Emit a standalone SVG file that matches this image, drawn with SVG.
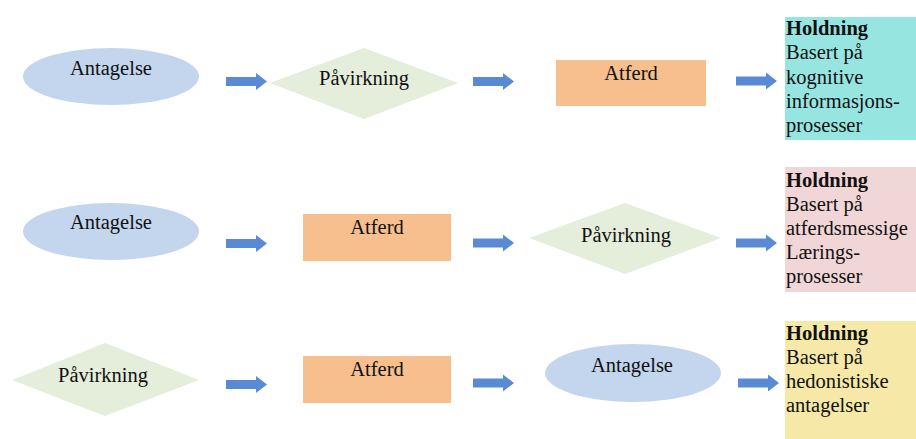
<svg xmlns="http://www.w3.org/2000/svg" xmlns:xlink="http://www.w3.org/1999/xlink" width="916" height="439" viewBox="0 0 916 439">
<style>
text{font-family:"Liberation Serif","Times New Roman",serif;font-size:20.5px;fill:#111}
.c{text-anchor:middle}
.b{font-weight:bold}
.ell{fill:#c3d6ed}
.dia{fill:#e5eddb}
.rec{fill:#f6bf8d}
.arr{fill:#5a8ad4}
</style>
<defs>
<path id="arrow" d="M0,-4.5 H30 V-8.5 L41,0 L30,8.5 V4.5 H0 Z"/>
</defs>
<rect width="916" height="439" fill="#ffffff"/>
<g id="connectors" class="arr">
<use xlink:href="#arrow" href="#arrow" x="226" y="81.5"/>
<use xlink:href="#arrow" href="#arrow" x="473" y="81.5"/>
<use xlink:href="#arrow" href="#arrow" x="736" y="81"/>
<use xlink:href="#arrow" href="#arrow" x="226" y="243.5"/>
<use xlink:href="#arrow" href="#arrow" x="473" y="243"/>
<use xlink:href="#arrow" href="#arrow" x="736" y="243"/>
<use xlink:href="#arrow" href="#arrow" x="226" y="384.5"/>
<use xlink:href="#arrow" href="#arrow" x="473" y="383"/>
<use xlink:href="#arrow" href="#arrow" x="738" y="383"/>
</g>
<g id="r1-antagelse"><ellipse class="ell" cx="111" cy="76.5" rx="88" ry="28.5"/><text class="c" x="111" y="75">Antagelse</text></g>
<g id="r1-pavirkning"><polygon class="dia" points="270,83 364,48 458,83 364,119"/><text class="c" x="364" y="85">Påvirkning</text></g>
<g id="r1-atferd"><rect class="rec" x="556" y="60" width="150" height="46"/><text class="c" x="631" y="80">Atferd</text></g>
<g id="r1-holdning"><rect x="785" y="17" width="131" height="123" fill="#97e5e1"/>
<text x="786" y="35"><tspan class="b">Holdning</tspan><tspan x="786" y="59">Basert på</tspan><tspan x="786" y="84">kognitive</tspan><tspan x="786" y="108">informasjons-</tspan><tspan x="786" y="132">prosesser</tspan></text></g>
<g id="r2-antagelse"><ellipse class="ell" cx="111" cy="231.5" rx="88" ry="28.5"/><text class="c" x="111" y="229">Antagelse</text></g>
<g id="r2-atferd"><rect class="rec" x="303" y="214" width="148" height="47"/><text class="c" x="377" y="234">Atferd</text></g>
<g id="r2-pavirkning"><polygon class="dia" points="529,238 625,203 721,238 625,274"/><text class="c" x="626" y="242">Påvirkning</text></g>
<g id="r2-holdning"><rect x="785" y="167" width="131" height="125" fill="#f1d6d7"/>
<text x="786" y="187"><tspan class="b">Holdning</tspan><tspan x="786" y="211">Basert på</tspan><tspan x="786" y="235">atferdsmessige</tspan><tspan x="786" y="259">Lærings-</tspan><tspan x="786" y="283">prosesser</tspan></text></g>
<g id="r3-pavirkning"><polygon class="dia" points="12,380 105,343 199,380 105,416"/><text class="c" x="103" y="382">Påvirkning</text></g>
<g id="r3-atferd"><rect class="rec" x="303" y="356" width="148" height="47"/><text class="c" x="377" y="376">Atferd</text></g>
<g id="r3-antagelse"><ellipse class="ell" cx="633" cy="373" rx="88" ry="29"/><text class="c" x="632" y="372">Antagelse</text></g>
<g id="r3-holdning"><rect x="785" y="321" width="131" height="118" fill="#f6e9a7"/>
<text x="786" y="340"><tspan class="b">Holdning</tspan><tspan x="786" y="364">Basert på</tspan><tspan x="786" y="388">hedonistiske</tspan><tspan x="786" y="412">antagelser</tspan></text></g>
</svg>
